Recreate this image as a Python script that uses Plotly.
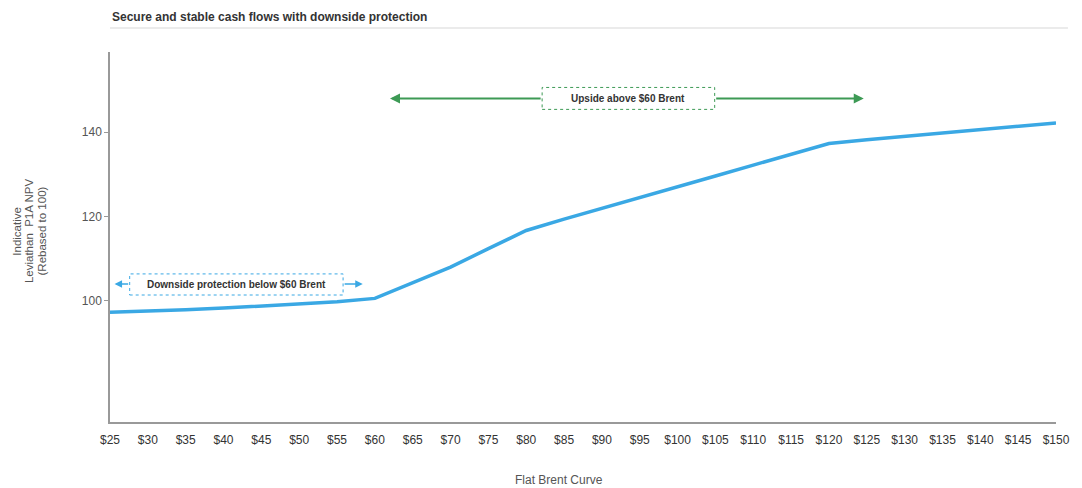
import plotly.graph_objects as go

brent = [25, 30, 35, 40, 45, 50, 55, 60, 65, 70, 75, 80, 85, 90, 95,
         100, 105, 110, 115, 120, 125, 130, 135, 140, 145, 150]
npv = [97.3, 97.5, 97.9, 98.3, 98.8, 99.4, 99.8, 100.6, 104.2, 108.0, 112.4, 116.7,
       119.4, 121.9, 124.4, 127.0, 129.6, 132.2, 134.7, 137.3, 138.2, 139.0,
       139.8, 140.6, 141.4, 142.2]
tick_labels = ["$" + str(v) for v in brent]
y_ticks = [100, 120, 140]

title_text = "Secure and stable cash flows with downside protection"
y_title_lines = ["Indicative", "Leviathan  P1A NPV", "(Rebased to 100)"]
x_title = "Flat Brent Curve"
down_text = "Downside protection below $60 Brent"
up_text = "Upside above $60 Brent"

FONT = "Liberation Sans, Arial, sans-serif"
BLUE = "#3aa8e4"
GREEN = "#3d9a55"

fig = go.Figure()
fig.add_trace(go.Scatter(x=brent, y=npv, mode="lines",
                         line=dict(color=BLUE, width=3.5), hoverinfo="skip"))

# Downside annotation: box + two arrows
d_y = 104.0
fig.add_shape(type="rect", x0=27.6, x1=55.8, y0=101.4, y1=106.4,
              line=dict(color=BLUE, width=1, dash="dot"), fillcolor="white", layer="above")
fig.add_annotation(x=41.7, y=d_y, text="<b>" + down_text + "</b>", showarrow=False,
                   font=dict(family=FONT, size=10, color="#333"))
for tip, base in [(25.6, 27.6), (58.4, 55.8)]:
    fig.add_annotation(x=tip, y=d_y, ax=base, ay=d_y, axref="x", ayref="y",
                       xref="x", yref="y", text="", showarrow=True,
                       arrowhead=2, arrowsize=1, arrowwidth=1.5, arrowcolor=BLUE)

# Upside annotation
u_y = 148.0
fig.add_shape(type="rect", x0=82.1, x1=104.9, y0=145.4, y1=150.6,
              line=dict(color=GREEN, width=1, dash="dot"), fillcolor="white", layer="above")
fig.add_annotation(x=93.5, y=u_y, text="<b>" + up_text + "</b>", showarrow=False,
                   font=dict(family=FONT, size=10, color="#333"))
for tip, base in [(62.0, 82.1), (124.6, 104.9)]:
    fig.add_annotation(x=tip, y=u_y, ax=base, ay=u_y, axref="x", ayref="y",
                       xref="x", yref="y", text="", showarrow=True,
                       arrowhead=2, arrowsize=1, arrowwidth=2, arrowcolor=GREEN)

# Title and underline
fig.add_annotation(xref="paper", yref="paper", x=0, y=1.0946, xanchor="left", yanchor="middle",
                   text="<b>" + title_text + "</b>", showarrow=False,
                   font=dict(family=FONT, size=12, color="#333"))
fig.add_shape(type="line", xref="paper", yref="paper", x0=0, x1=1.0126, y0=1.065, y1=1.065,
              line=dict(color="#ebebeb", width=2))

# Y axis title, one annotation per line (tight line spacing like the reference)
for i, line in enumerate(y_title_lines):
    px = 16 + 12.5 * i
    fig.add_annotation(xref="paper", yref="paper", x=(px - 110) / 953, y=(422 - 231) / 370,
                       xanchor="center", yanchor="middle", text=line,
                       textangle=-90, showarrow=False,
                       font=dict(family=FONT, size=11.5, color="#555"))
fig.add_annotation(xref="paper", yref="paper", x=0.475, y=-(480 - 422) / 370,
                   xanchor="center", yanchor="middle", text=x_title,
                   showarrow=False, font=dict(family=FONT, size=12, color="#555"))

fig.update_layout(
    width=1082, height=488,
    margin=dict(l=110, r=19, t=52, b=66),
    plot_bgcolor="white", paper_bgcolor="white",
    showlegend=False,
    font=dict(family=FONT, size=12, color="#444"),
)
fig.update_xaxes(range=[25, 150], tickvals=brent, ticktext=tick_labels,
                 showgrid=False, zeroline=False, showline=True,
                 linecolor="#999", linewidth=1.5, ticks="outside", ticklen=6,
                 tickcolor="rgba(0,0,0,0)",
                 tickfont=dict(family=FONT, size=12, color="#333"))
fig.update_yaxes(range=[71.3, 159], tickvals=y_ticks, showgrid=False, zeroline=False,
                 showline=True, linecolor="#999", linewidth=1.5,
                 ticks="outside", ticklen=4, tickcolor="#999",
                 tickfont=dict(family=FONT, size=12, color="#555"))

fig.write_html("out.html")
